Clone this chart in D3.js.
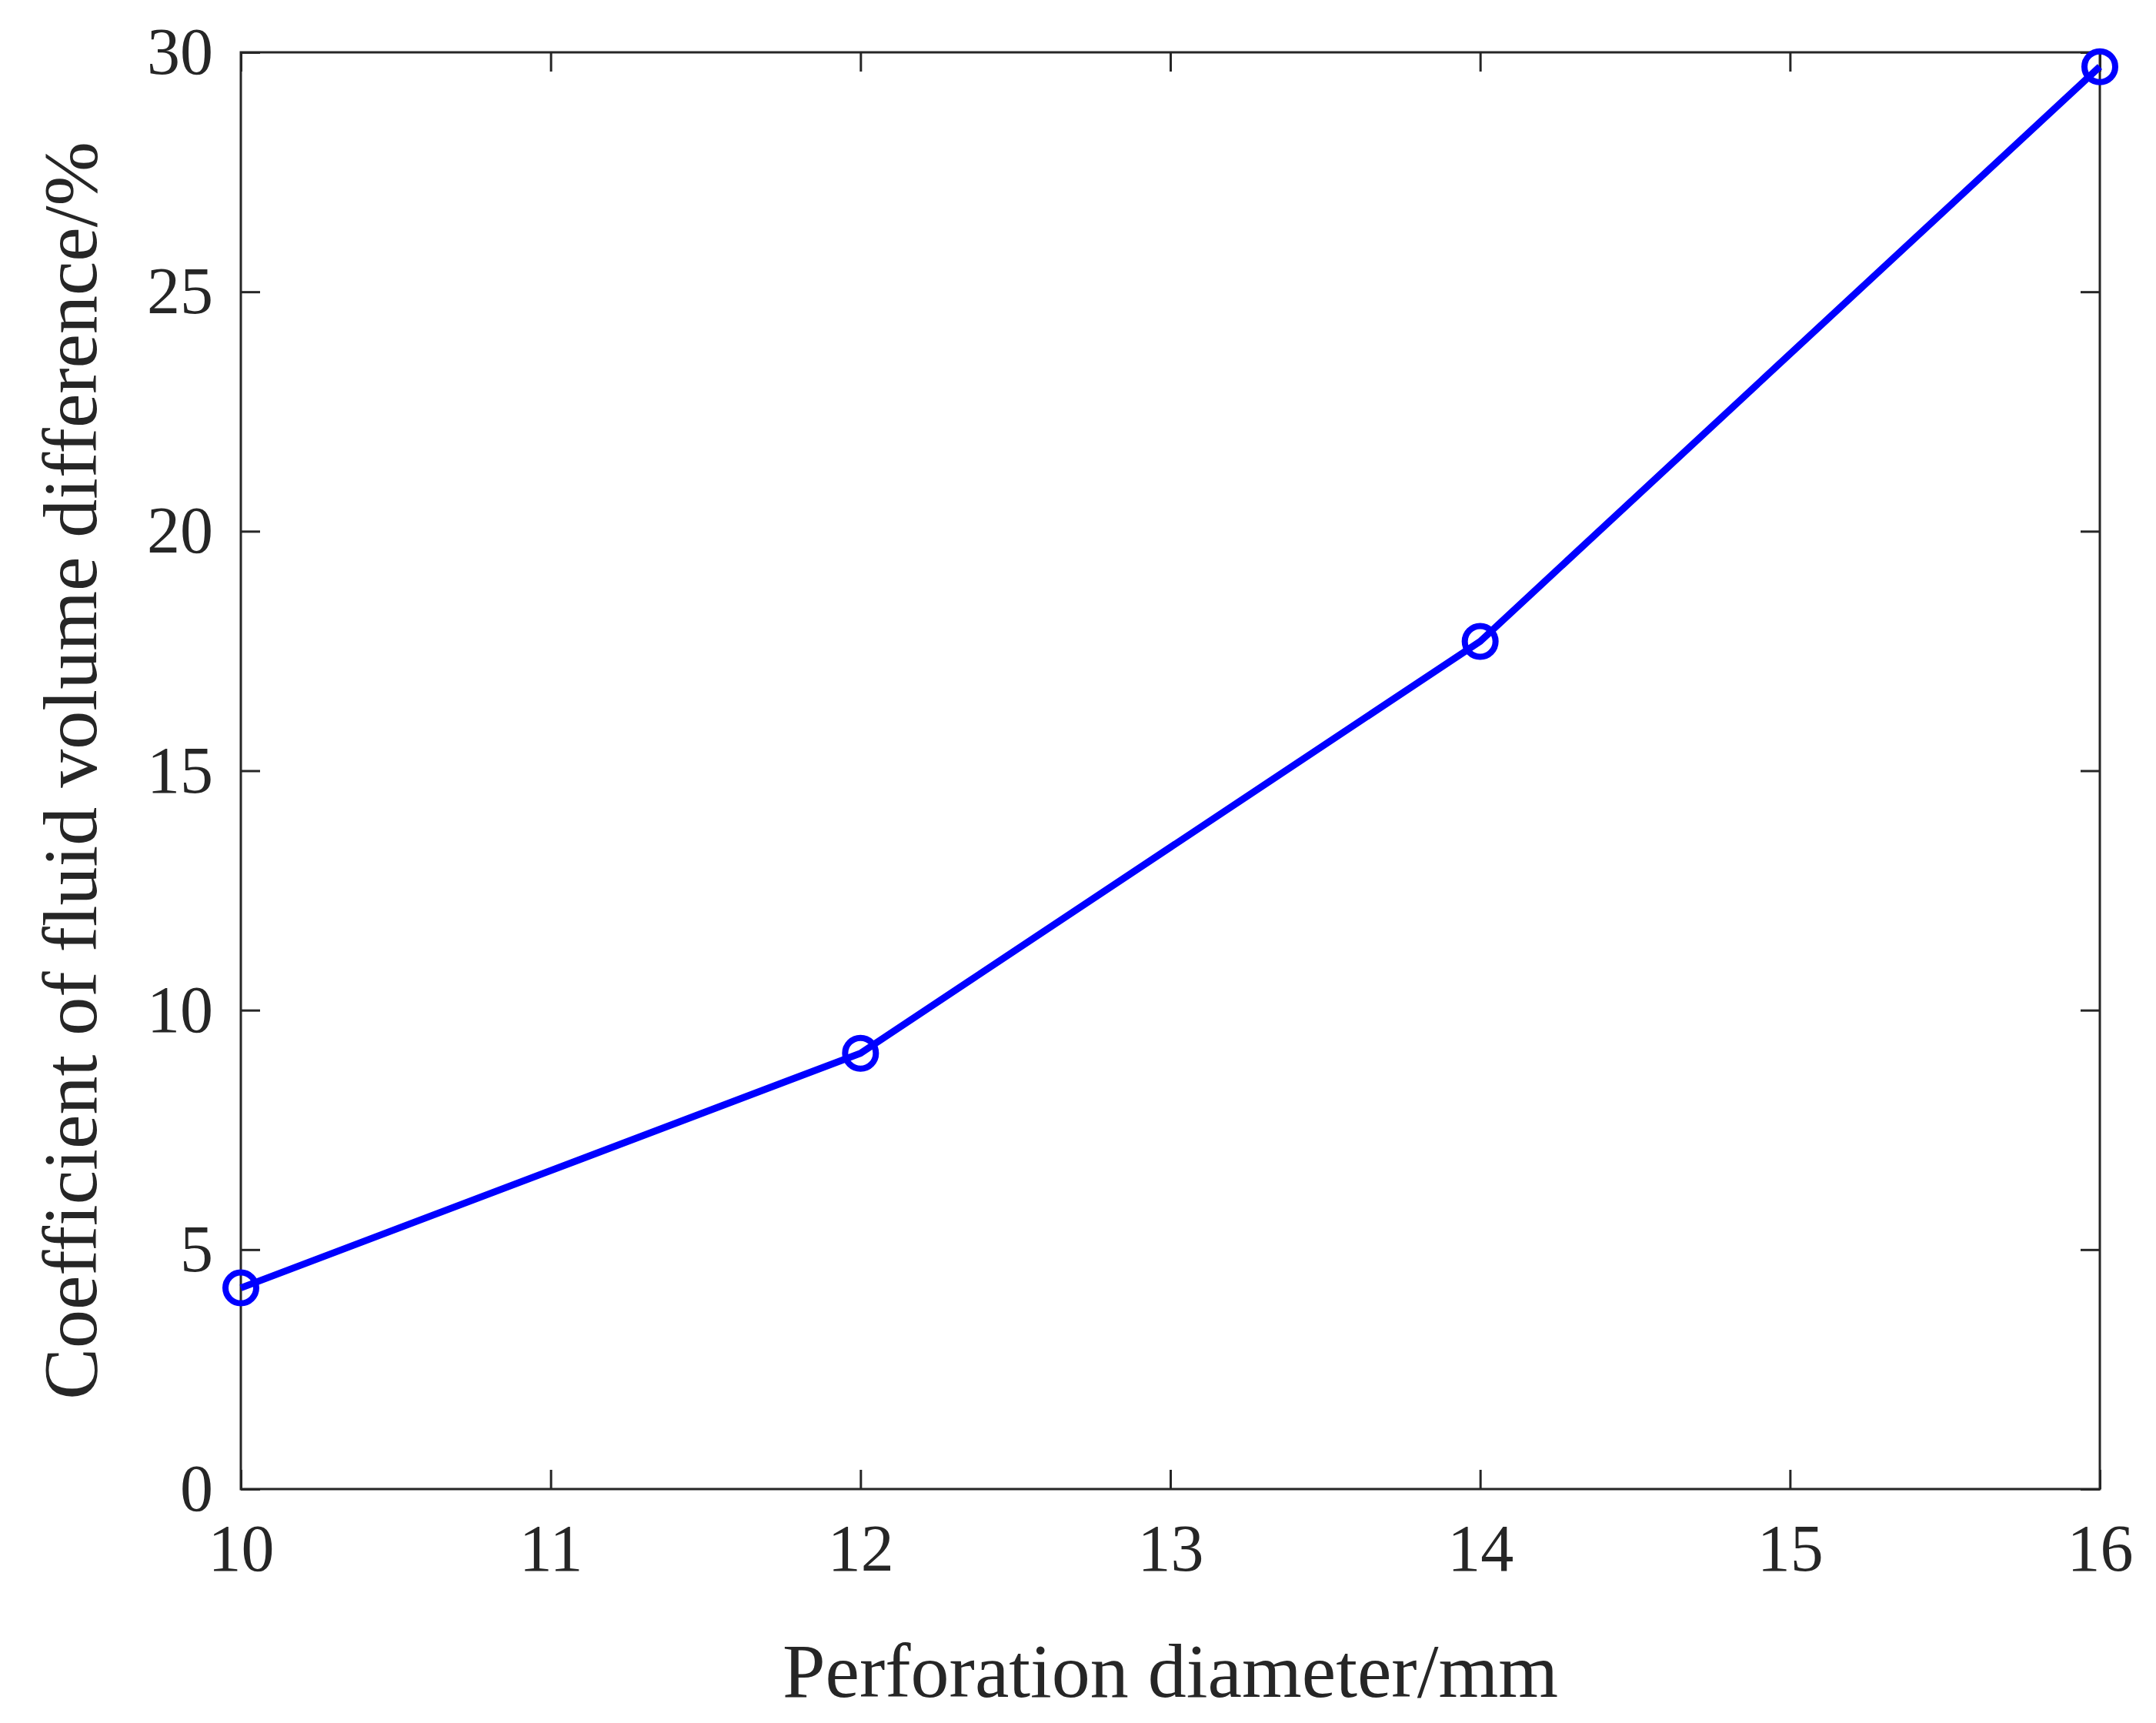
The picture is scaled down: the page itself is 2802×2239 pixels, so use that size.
<!DOCTYPE html>
<html><head><meta charset="utf-8">
<script src="https://cdn.jsdelivr.net/npm/d3@7"></script>
<style>body{margin:0;background:#fff}</style>
</head><body>
<div id="chart"></div>
<script>
const diameters = [10, 12, 14, 16];
const coefficients = [4.2, 9.1, 17.7, 29.7];
const xTicks = [10, 11, 12, 13, 14, 15, 16];
const yTicks = [0, 5, 10, 15, 20, 25, 30];

const W = 2802, H = 2239;
const m = {left: 313, right: 73, top: 68, bottom: 304};
const pw = W - m.left - m.right, ph = H - m.top - m.bottom;
const font = "'Liberation Serif', 'Times New Roman', serif";
const axisColor = "#262626";

const svg = d3.select("#chart").append("svg").attr("width", W).attr("height", H);
const g = svg.append("g").attr("transform", `translate(${m.left},${m.top})`);

const x = d3.scaleLinear().domain([10, 16]).range([0, pw]);
const y = d3.scaleLinear().domain([0, 30]).range([ph, 0]);

g.append("rect").attr("width", pw).attr("height", ph)
  .attr("fill", "none").attr("stroke", axisColor).attr("stroke-width", 3);

const tl = 25;
function styleAxis(sel) {
  sel.select(".domain").remove();
  sel.selectAll("line").attr("stroke", axisColor).attr("stroke-width", 3);
  sel.selectAll("text").attr("font-family", font).attr("font-size", 86).attr("fill", axisColor);
}
g.append("g").attr("transform", `translate(0,${ph})`)
  .call(d3.axisBottom(x).tickValues(xTicks).tickSize(-tl).tickPadding(45).tickFormat(d3.format("d")))
  .call(styleAxis);
g.append("g")
  .call(d3.axisTop(x).tickValues(xTicks).tickSize(-tl).tickFormat(""))
  .call(styleAxis);
g.append("g")
  .call(d3.axisLeft(y).tickValues(yTicks).tickSize(-tl).tickPadding(36).tickFormat(d3.format("d")))
  .call(styleAxis);
g.append("g").attr("transform", `translate(${pw},0)`)
  .call(d3.axisRight(y).tickValues(yTicks).tickSize(-tl).tickFormat(""))
  .call(styleAxis);

const pts = diameters.map((d, i) => [d, coefficients[i]]);
g.append("path").datum(pts)
  .attr("d", d3.line().x(d => x(d[0])).y(d => y(d[1])))
  .attr("fill", "none").attr("stroke", "#0000ff").attr("stroke-width", 9);
g.selectAll(".pt").data(pts).join("circle")
  .attr("cx", d => x(d[0])).attr("cy", d => y(d[1])).attr("r", 20)
  .attr("fill", "none").attr("stroke", "#0000ff").attr("stroke-width", 8);

svg.append("text").attr("x", m.left + pw / 2).attr("y", 2205)
  .attr("text-anchor", "middle").attr("font-family", font).attr("font-size", 100)
  .attr("fill", axisColor).text("Perforation diameter/mm");
svg.append("text").attr("transform", `translate(125,${m.top + ph / 2}) rotate(-90)`)
  .attr("text-anchor", "middle").attr("font-family", font).attr("font-size", 100)
  .attr("fill", axisColor).text("Coefficient of fluid volume difference/%");
</script>
</body></html>
